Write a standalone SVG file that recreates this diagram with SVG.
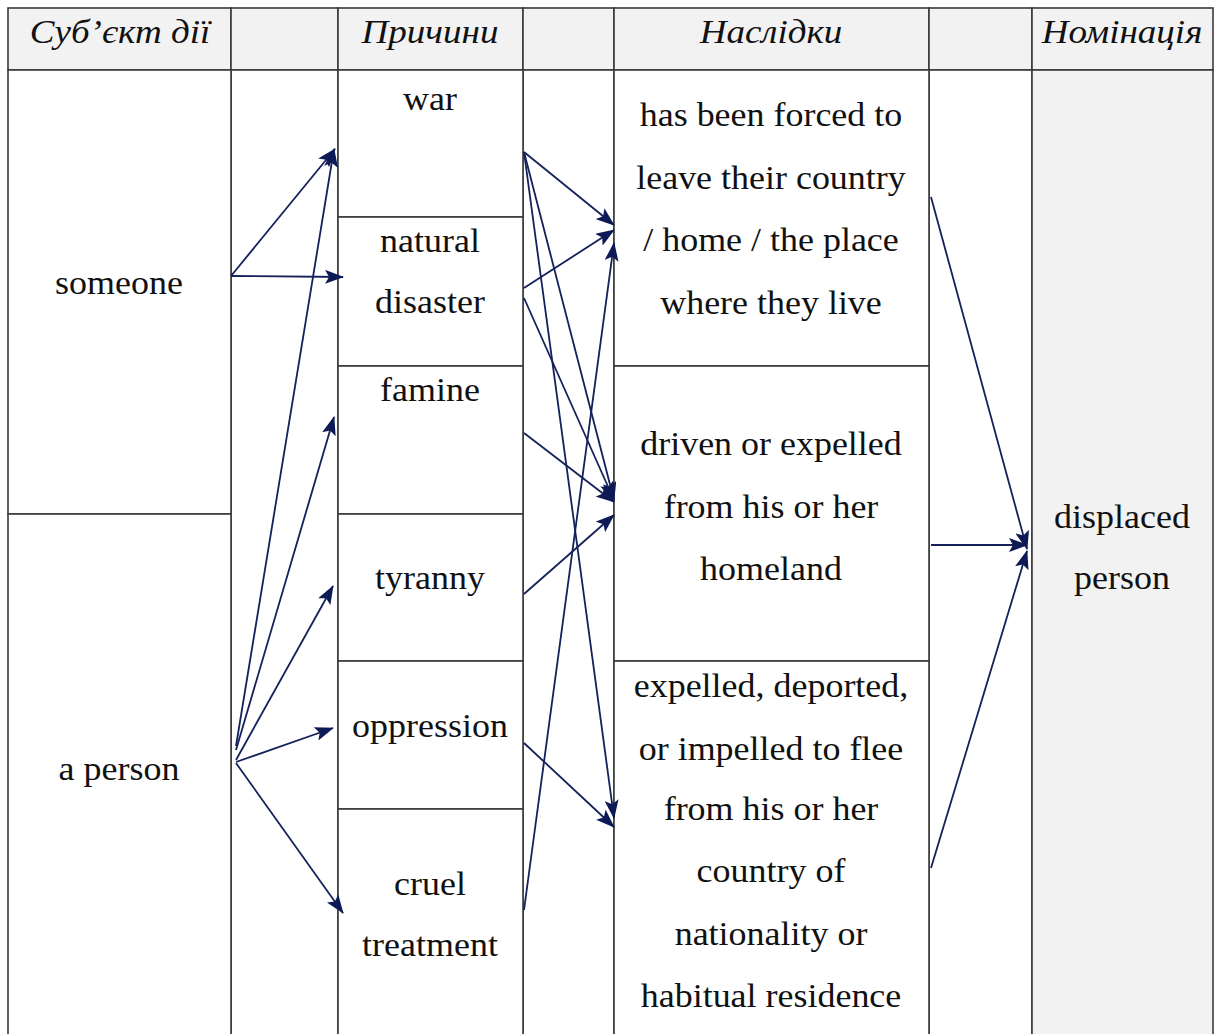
<svg xmlns="http://www.w3.org/2000/svg" width="1221" height="1034" viewBox="0 0 1221 1034">
  <style>
    .cell { fill: #ffffff; stroke: #3a3a3a; stroke-width: 1.6; }
    .shade { fill: #f2f2f2; stroke: #3a3a3a; stroke-width: 1.6; }
    text { font-family: "Liberation Serif", "Times New Roman", serif; font-size: 33px; fill: #111111; text-anchor: middle; }
    .head { font-style: italic; font-size: 34px; }
    .conn line { stroke: #14215a; stroke-width: 1.8; fill: none; marker-end: url(#arrow); }
  </style>
  <defs>
    <marker id="arrow" markerUnits="userSpaceOnUse" markerWidth="19" markerHeight="14" refX="18" refY="7" orient="auto">
      <path d="M0,0 L19,7 L0,14 L4,7 z" fill="#0d1a55"/>
    </marker>
  </defs>

  <rect x="0" y="0" width="1221" height="1034" fill="#ffffff"/>

  <!-- header row -->
  <g id="header">
    <g id="head-subject">
      <rect class="shade" x="8" y="8" width="223" height="62"/>
      <text class="head" transform="translate(120 0) scale(1.09 1)" y="43">Суб’єкт дії</text>
    </g>
    <rect class="shade" x="231" y="8" width="107" height="62"/>
    <g id="head-causes">
      <rect class="shade" x="338" y="8" width="185" height="62"/>
      <text class="head" transform="translate(430 0) scale(1.09 1)" y="43">Причини</text>
    </g>
    <rect class="shade" x="523" y="8" width="91" height="62"/>
    <g id="head-effects">
      <rect class="shade" x="614" y="8" width="315" height="62"/>
      <text class="head" transform="translate(771 0) scale(1.09 1)" y="43">Наслідки</text>
    </g>
    <rect class="shade" x="929" y="8" width="103" height="62"/>
    <g id="head-nomination">
      <rect class="shade" x="1032" y="8" width="181" height="62"/>
      <text class="head" transform="translate(1122 0) scale(1.09 1)" y="43">Номінація</text>
    </g>
  </g>

  <!-- empty spacer columns -->
  <rect class="cell" x="231" y="70" width="107" height="980"/>
  <rect class="cell" x="523" y="70" width="91" height="980"/>
  <rect class="cell" x="929" y="70" width="103" height="980"/>

  <!-- subjects -->
  <g id="someone">
    <rect class="cell" x="8" y="70" width="223" height="444"/>
    <text transform="translate(119 0) scale(1.09 1)" y="294">someone</text>
  </g>
  <g id="a-person">
    <rect class="cell" x="8" y="514" width="223" height="536"/>
    <text transform="translate(119 0) scale(1.09 1)" y="780">a person</text>
  </g>

  <!-- causes -->
  <g id="war">
    <rect class="cell" x="338" y="70" width="185" height="147"/>
    <text transform="translate(430 0) scale(1.09 1)" y="110">war</text>
  </g>
  <g id="natural-disaster">
    <rect class="cell" x="338" y="217" width="185" height="149"/>
    <text transform="translate(430 0) scale(1.09 1)" y="252">natural</text>
    <text transform="translate(430 0) scale(1.09 1)" y="313">disaster</text>
  </g>
  <g id="famine">
    <rect class="cell" x="338" y="366" width="185" height="148"/>
    <text transform="translate(430 0) scale(1.09 1)" y="401">famine</text>
  </g>
  <g id="tyranny">
    <rect class="cell" x="338" y="514" width="185" height="147"/>
    <text transform="translate(430 0) scale(1.09 1)" y="589">tyranny</text>
  </g>
  <g id="oppression">
    <rect class="cell" x="338" y="661" width="185" height="148"/>
    <text transform="translate(430 0) scale(1.09 1)" y="737">oppression</text>
  </g>
  <g id="cruel-treatment">
    <rect class="cell" x="338" y="809" width="185" height="241"/>
    <text transform="translate(430 0) scale(1.09 1)" y="895">cruel</text>
    <text transform="translate(430 0) scale(1.09 1)" y="956">treatment</text>
  </g>

  <!-- effects -->
  <g id="forced-to-leave">
    <rect class="cell" x="614" y="70" width="315" height="296"/>
    <text transform="translate(771 0) scale(1.09 1)" y="126">has been forced to</text>
    <text transform="translate(771 0) scale(1.09 1)" y="189">leave their country</text>
    <text transform="translate(771 0) scale(1.09 1)" y="251">/ home / the place</text>
    <text transform="translate(771 0) scale(1.09 1)" y="314">where they live</text>
  </g>
  <g id="driven-or-expelled">
    <rect class="cell" x="614" y="366" width="315" height="295"/>
    <text transform="translate(771 0) scale(1.09 1)" y="455">driven or expelled</text>
    <text transform="translate(771 0) scale(1.09 1)" y="518">from his or her</text>
    <text transform="translate(771 0) scale(1.09 1)" y="580">homeland</text>
  </g>
  <g id="expelled-deported">
    <rect class="cell" x="614" y="661" width="315" height="389"/>
    <text transform="translate(771 0) scale(1.09 1)" y="697">expelled, deported,</text>
    <text transform="translate(771 0) scale(1.09 1)" y="760">or impelled to flee</text>
    <text transform="translate(771 0) scale(1.09 1)" y="820">from his or her</text>
    <text transform="translate(771 0) scale(1.09 1)" y="882">country of</text>
    <text transform="translate(771 0) scale(1.09 1)" y="945">nationality or</text>
    <text transform="translate(771 0) scale(1.09 1)" y="1007">habitual residence</text>
  </g>

  <!-- nomination -->
  <g id="displaced-person">
    <rect class="shade" x="1032" y="70" width="181" height="980"/>
    <text transform="translate(1122 0) scale(1.09 1)" y="528">displaced</text>
    <text transform="translate(1122 0) scale(1.09 1)" y="589">person</text>
  </g>

  <!-- connectors -->
  <g id="connectors" class="conn">
    <line x1="231" y1="276" x2="335" y2="149"/>
    <line x1="231" y1="276" x2="343" y2="277"/>
    <line x1="236" y1="746" x2="334" y2="149"/>
    <line x1="236" y1="750" x2="334" y2="417"/>
    <line x1="236" y1="760" x2="333" y2="586"/>
    <line x1="236" y1="762" x2="333" y2="728"/>
    <line x1="236" y1="763" x2="343" y2="913"/>

    <line x1="524" y1="152" x2="614" y2="225"/>
    <line x1="524" y1="152" x2="614" y2="500"/>
    <line x1="524" y1="152" x2="614" y2="818"/>
    <line x1="524" y1="288" x2="614" y2="230"/>
    <line x1="524" y1="298" x2="614" y2="500"/>
    <line x1="524" y1="433" x2="614" y2="502"/>
    <line x1="524" y1="594" x2="614" y2="515"/>
    <line x1="524" y1="743" x2="614" y2="827"/>
    <line x1="524" y1="910" x2="614" y2="243"/>

    <line x1="931" y1="197" x2="1027" y2="549"/>
    <line x1="931" y1="545" x2="1027" y2="545"/>
    <line x1="931" y1="868" x2="1027" y2="551"/>
  </g>
</svg>
